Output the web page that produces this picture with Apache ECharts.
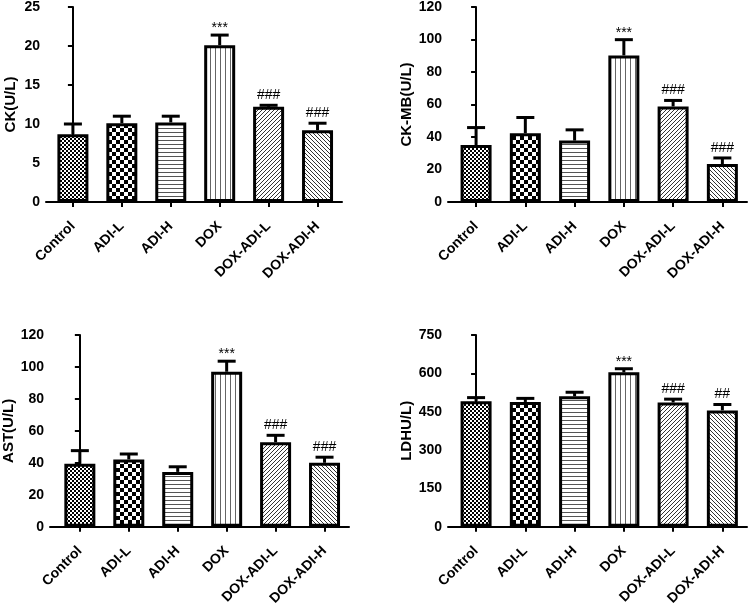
<!DOCTYPE html>
<html><head><meta charset="utf-8">
<script src="https://cdn.jsdelivr.net/npm/echarts@6/dist/echarts.min.js"></script>
<style>html,body{margin:0;padding:0;background:#fff}#c{width:750px;height:608px}</style>
</head><body><div id="c"></div>
<script>
const categories = ['Control', 'ADI-L', 'ADI-H', 'DOX', 'DOX-ADI-L', 'DOX-ADI-H'];

const ckMean = [8.7, 10.1, 10.2, 20.1, 12.2, 9.2];
const ckSem  = [1.3, 0.9, 0.8, 1.3, 0.2, 0.9];
const ckMarks = ['', '', '', '***', '###', '###'];

const ckmbMean = [35.1, 42.3, 37.8, 90.2, 58.8, 23.4];
const ckmbSem  = [10.7, 9.7, 6.6, 9.7, 3.7, 3.7];
const ckmbMarks = ['', '', '', '***', '###', '###'];

const astMean = [39.4, 42.1, 34.3, 97.0, 52.9, 40.0];
const astSem  = [8.2, 3.4, 3.2, 6.6, 4.3, 3.5];
const astMarks = ['', '', '', '***', '###', '###'];

const ldhMean = [491, 488, 510, 604, 486, 455];
const ldhSem  = [14, 14, 16, 14, 13, 23];
const ldhMarks = ['', '', '', '***', '###', '##'];

const yTicksCK = [0, 5, 10, 15, 20, 25];
const yTicksCKMB = [0, 20, 40, 60, 80, 100, 120];
const yTicksAST = [0, 20, 40, 60, 80, 100, 120];
const yTicksLDH = [0, 150, 300, 450, 600, 750];

const FONT = 'Liberation Sans, Arial, Helvetica, sans-serif';

function pattern(kind) {
  const c = document.createElement('canvas');
  let w = 4, h = 4;
  if (kind === 'check') { w = 8; h = 8; }
  if (kind === 'vline') { w = 5; h = 4; }
  c.width = w; c.height = h;
  const ctx = c.getContext('2d');
  ctx.fillStyle = '#fff'; ctx.fillRect(0, 0, w, h);
  if (kind === 'fine') {
    ctx.fillStyle = '#000';
    ctx.fillRect(0, 0, 2, 2); ctx.fillRect(2, 2, 2, 2);
  } else if (kind === 'check') {
    ctx.fillStyle = '#000';
    ctx.fillRect(0, 0, 4, 4); ctx.fillRect(4, 4, 4, 4);
  } else if (kind === 'hline') {
    ctx.fillStyle = '#555'; ctx.fillRect(0, 0, w, 1);
  } else if (kind === 'vline') {
    ctx.fillStyle = '#666'; ctx.fillRect(0, 0, 1, h);
  } else if (kind === 'diagR') {
    ctx.fillStyle = '#333';
    for (let i = 0; i < 4; i++) ctx.fillRect(3 - i, i, 1, 1);
  } else if (kind === 'diagL') {
    ctx.fillStyle = '#333';
    for (let i = 0; i < 4; i++) ctx.fillRect(i, i, 1, 1);
  }
  return { image: c, repeat: 'repeat' };
}
const fills = ['fine', 'check', 'hline', 'vline', 'diagR', 'diagL'].map(pattern);

const panels = [
  { name: 'CK(U/L)', mean: ckMean, sem: ckSem, marks: ckMarks, ticks: yTicksCK,
    grid: { left: 46, top: 7, width: 296, height: 195 }, xmin: -0.55, nameGap: 28 },
  { name: 'CK-MB(U/L)', mean: ckmbMean, sem: ckmbSem, marks: ckmbMarks, ticks: yTicksCKMB,
    grid: { left: 448, top: 7, width: 299, height: 195 }, xmin: -0.57, nameGap: 32 },
  { name: 'AST(U/L)', mean: astMean, sem: astSem, marks: astMarks, ticks: yTicksAST,
    grid: { left: 50, top: 335, width: 299, height: 195 }, xmin: -0.61, nameGap: 33 },
  { name: 'LDHU/L)', mean: ldhMean, sem: ldhSem, marks: ldhMarks, ticks: yTicksLDH,
    grid: { left: 448, top: 335, width: 299, height: 195 }, xmin: -0.57, nameGap: 33 }
];

const idx = categories.map((c, i) => i);
const option = { animation: false, backgroundColor: '#fff', grid: [], xAxis: [], yAxis: [], series: [] };

panels.forEach((p, k) => {
  option.grid.push(p.grid);
  option.xAxis.push({
    type: 'value', gridIndex: k, min: p.xmin, max: 5.5,
    axisLine: { show: true, onZero: false, lineStyle: { color: '#000', width: 2 } },
    axisTick: { show: true, customValues: idx, length: 5, lineStyle: { color: '#000', width: 2 } },
    axisLabel: { show: true, customValues: idx, formatter: v => categories[Math.round(v)], rotate: 45, margin: 22,
      color: '#000', fontWeight: 'bold', fontSize: 14, fontFamily: FONT },
    splitLine: { show: false }
  });
  const ymax = p.ticks[p.ticks.length - 1];
  option.yAxis.push({
    type: 'value', gridIndex: k, min: p.ticks[0], max: ymax, interval: p.ticks[1] - p.ticks[0],
    name: p.name, nameLocation: 'middle', nameGap: p.nameGap,
    nameTextStyle: { color: '#000', fontWeight: 'bold', fontSize: 15, fontFamily: FONT },
    axisLine: { show: true, lineStyle: { color: '#000', width: 2 } },
    axisTick: { show: true, length: 5, lineStyle: { color: '#000', width: 2 } },
    axisLabel: { color: '#000', fontWeight: 'bold', fontSize: 14, fontFamily: FONT, margin: 6 },
    splitLine: { show: false }
  });
  option.series.push({
    type: 'bar', xAxisIndex: k, yAxisIndex: k, barWidth: 31,
    data: p.mean.map((v, i) => ({ value: [i, v], itemStyle: { color: fills[i], borderColor: '#000', borderWidth: 3 } })),
    z: 2
  });
  option.series.push({
    type: 'custom', xAxisIndex: k, yAxisIndex: k, z: 5,
    data: p.mean.map((v, i) => [i, v, v + p.sem[i]]),
    renderItem: (params, api) => {
      const x = api.value(0), lo = api.value(1), hi = api.value(2);
      const a = api.coord([x, lo]), b = api.coord([x, hi]);
      const children = [
        { type: 'line', shape: { x1: a[0], y1: a[1], x2: b[0], y2: b[1] }, style: { stroke: '#000', lineWidth: 3 } },
        { type: 'line', shape: { x1: b[0] - 9, y1: b[1], x2: b[0] + 9, y2: b[1] }, style: { stroke: '#000', lineWidth: 3 } }
      ];
      const m = p.marks[params.dataIndex];
      if (m) {
        const gap = m.charAt(0) === '*' ? 0 : 3;
        children.push({ type: 'text', x: b[0], y: b[1] - gap,
          style: { text: m, fill: '#000', fontSize: 14, fontFamily: FONT, align: 'center', verticalAlign: 'bottom' } });
      }
      return { type: 'group', children };
    }
  });
});

const chart = echarts.init(document.getElementById('c'), null, { renderer: 'canvas' });
chart.setOption(option);
</script>
</body></html>
